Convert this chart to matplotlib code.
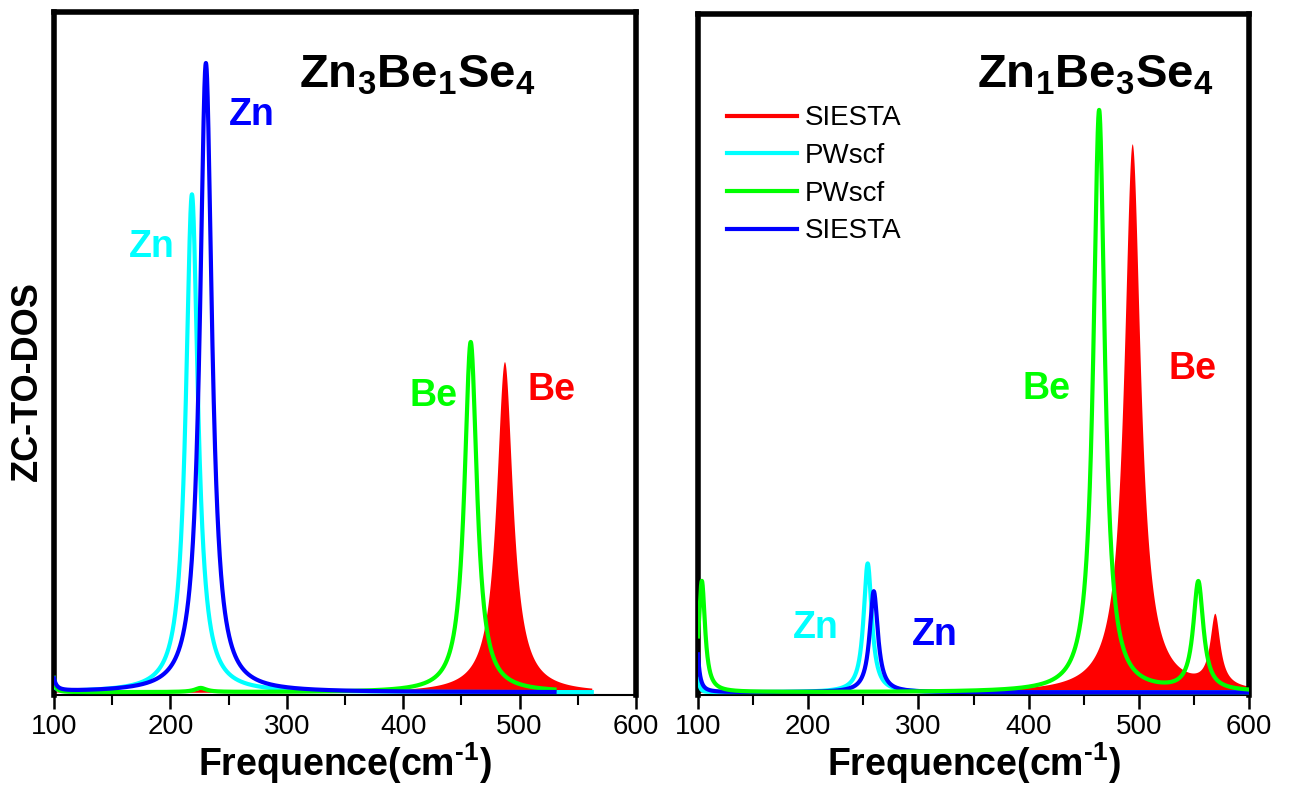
import numpy as np
import matplotlib
matplotlib.use("Agg")
import matplotlib.pyplot as plt
from matplotlib.lines import Line2D
from matplotlib.ticker import MultipleLocator

plt.rcParams['font.family'] = ['Liberation Sans', 'DejaVu Sans']
plt.rcParams['mathtext.fontset'] = 'custom'
plt.rcParams['mathtext.rm'] = 'Liberation Sans'
plt.rcParams['mathtext.bf'] = 'Liberation Sans:bold'
plt.rcParams['mathtext.it'] = 'Liberation Sans:italic'

# ---------------- data (peak centre cm^-1, height, FWHM) ----------------
# Left panel: Zn3Be1Se4
L_red_centers   = [487.0, 226.0, 97.0]
L_red_heights   = [0.486, 0.004, 0.008]
L_red_widths    = [17.0, 10.0, 3.0]
L_red_end       = 562

L_cyan_centers  = [218.5, 97.0]
L_cyan_heights  = [0.732, 0.025]
L_cyan_widths   = [12.5, 4.0]
L_cyan_end      = 562

L_blue_centers  = [230.5, 97.0]
L_blue_heights  = [0.925, 0.045]
L_blue_widths   = [12.5, 5.0]
L_blue_end      = 530

L_green_centers = [458.0, 226.0, 98.0]
L_green_heights = [0.515, 0.006, 0.075]
L_green_widths  = [13.0, 12.0, 2.5]
L_green_end     = 530

# Right panel: Zn1Be3Se4
R_red_centers   = [494.0, 569.0, 100.0]
R_red_heights   = [0.808, 0.105, 0.03]
R_red_widths    = [18.0, 11.0, 4.0]

R_cyan_centers  = [254.0, 100.0]
R_cyan_heights  = [0.19, 0.02]
R_cyan_widths   = [9.0, 3.0]

R_blue_centers  = [259.5, 98.0]
R_blue_heights  = [0.149, 0.10]
R_blue_widths   = [9.0, 4.5]

R_green_centers = [464.0, 554.0, 103.5]
R_green_heights = [0.858, 0.160, 0.164]
R_green_widths  = [12.5, 11.0, 7.0]

xticks = [100, 200, 300, 400, 500, 600]
legend_labels = ['SIESTA', 'PWscf', 'PWscf', 'SIESTA']

RED, CYAN, GREEN, BLUE = '#ff0000', '#00ffff', '#00ff00', '#0000ff'


def dos(x, centers, heights, widths):
    y = np.zeros_like(x)
    for c, h, w in zip(centers, heights, widths):
        hw = w / 2.0
        y += h * hw**2 / ((x - c)**2 + hw**2)
    return y


fig = plt.figure(figsize=(12.95, 7.97), dpi=100)
ax1 = fig.add_axes([54/1295, 1-695/797, 582/1295, 683/797])
ax2 = fig.add_axes([698/1295, 1-695/797, 551/1295, 681/797])

LW = 3.0


def style(ax):
    ax.set_xlim(100, 600)
    ax.set_ylim(-0.004, 1.0)
    ax.set_yticks([])
    ax.set_xticks(xticks)
    ax.xaxis.set_minor_locator(MultipleLocator(50))
    ax.tick_params(axis='x', which='major', direction='out', length=10, width=1.8,
                   labelsize=20, pad=4)
    ax.tick_params(axis='x', which='minor', direction='out', length=7, width=1.5)
    for s in ('left', 'right', 'top'):
        ax.spines[s].set_linewidth(4.0)
    ax.spines['bottom'].set_linewidth(1.5)
    ax.set_xlabel('Frequence(cm$^{\\mathbf{\u2010 1}}$)', fontsize=27, fontweight='bold',
                  labelpad=0)


# ---- left panel ----
x = np.linspace(100, 600, 4001)
m = x <= L_red_end
ax1.fill_between(x[m], 0, dos(x[m], L_red_centers, L_red_heights, L_red_widths),
                 color=RED, lw=0, zorder=2)
m = x <= L_cyan_end
ax1.plot(x[m], dos(x[m], L_cyan_centers, L_cyan_heights, L_cyan_widths), color=CYAN, lw=LW, zorder=3)
m = x <= L_green_end
ax1.plot(x[m], dos(x[m], L_green_centers, L_green_heights, L_green_widths), color=GREEN, lw=LW, zorder=3)
m = x <= L_blue_end
ax1.plot(x[m], dos(x[m], L_blue_centers, L_blue_heights, L_blue_widths), color=BLUE, lw=LW, zorder=4)
style(ax1)
ax1.set_ylabel('ZC-TO-DOS', fontsize=26, fontweight='bold')
ax1.yaxis.set_label_coords(-0.016, 0.46)

ax1.text(412, 0.889, r'$\mathbf{Zn_{3}Be_{1}Se_{4}}$', fontsize=34, ha='center', va='baseline')
ax1.text(270, 0.849, 'Zn', color=BLUE, fontsize=27, fontweight='bold', ha='center', va='center')
ax1.text(184, 0.654, 'Zn', color=CYAN, fontsize=27, fontweight='bold', ha='center', va='center')
ax1.text(426, 0.435, 'Be', color=GREEN, fontsize=27, fontweight='bold', ha='center', va='center')
ax1.text(527, 0.444, 'Be', color=RED, fontsize=27, fontweight='bold', ha='center', va='center')

# ---- right panel ----
ax2.fill_between(x, 0, dos(x, R_red_centers, R_red_heights, R_red_widths),
                 color=RED, lw=0, zorder=2)
ax2.plot(x, dos(x, R_cyan_centers, R_cyan_heights, R_cyan_widths), color=CYAN, lw=LW, zorder=3)
ax2.plot(x, dos(x, R_blue_centers, R_blue_heights, R_blue_widths), color=BLUE, lw=LW, zorder=4)
ax2.plot(x, dos(x, R_green_centers, R_green_heights, R_green_widths), color=GREEN, lw=LW, zorder=5)
style(ax2)

ax2.text(461, 0.892, r'$\mathbf{Zn_{1}Be_{3}Se_{4}}$', fontsize=34, ha='center', va='baseline')
ax2.text(207, 0.095, 'Zn', color=CYAN, fontsize=27, fontweight='bold', ha='center', va='center')
ax2.text(315, 0.085, 'Zn', color=BLUE, fontsize=27, fontweight='bold', ha='center', va='center')
ax2.text(416, 0.447, 'Be', color=GREEN, fontsize=27, fontweight='bold', ha='center', va='center')
ax2.text(549, 0.476, 'Be', color=RED, fontsize=27, fontweight='bold', ha='center', va='center')

handles = [Line2D([], [], color=c, lw=LW) for c in (RED, CYAN, GREEN, BLUE)]
ax2.legend(handles, legend_labels, loc='upper left', bbox_to_anchor=(0.053, 0.866),
           frameon=False, fontsize=20, handlelength=2.5, handletextpad=0.3,
           labelspacing=0.42, borderpad=0, borderaxespad=0)

fig.savefig('out.png', dpi=100)
